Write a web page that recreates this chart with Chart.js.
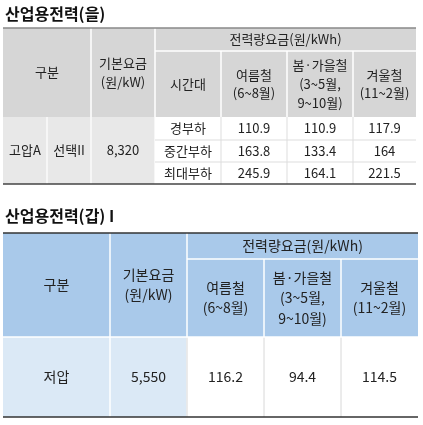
<!DOCTYPE html>
<html><head><meta charset="utf-8">
<script src="https://cdn.jsdelivr.net/npm/chart.js@4"></script>
<style>html,body{margin:0;padding:0;background:#fff}#w{width:423px;height:425px}</style>
</head><body><div id="w"><canvas id="c"></canvas></div>
<script>
// Data
const title1 = "산업용전력(을)";
const title2 = "산업용전력(갑) I";
const energyHeader = "전력량요금(원/kWh)";
const seasons = [["여름철","(6~8월)"],["봄·가을철","(3~5월,","9~10월)"],["겨울철","(11~2월)"]];
const timeBands = ["경부하","중간부하","최대부하"];
const eulSummer = [110.9, 163.8, 245.9];
const eulSpring = [110.9, 133.4, 164.1];
const eulWinter = [117.9, 164, 221.5];
const eulBase = "8,320";
const gapBase = "5,550";
const gapValues = [116.2, 94.4, 114.5];

// Layout (pixel units of the scales)
const T1 = {cols:[3,47,91,155,221,287,353,416], top:28, sub:51, head:117, rows:[117,140,162,184]};
const T2 = {cols:[3,110,187,264,341,418], top:233, sub:259, head:337, bot:417};
const FONT = '"Noto Sans CJK KR","Noto Sans",sans-serif';

const tablePlugin = {
  id:'tables',
  afterDraw(chart){
    const ctx = chart.ctx, xs = chart.scales.x, ys = chart.scales.y;
    const X = v => xs.getPixelForValue(v), Y = v => ys.getPixelForValue(v);
    function rect(x0,y0,x1,y1,fill){ctx.fillStyle=fill;ctx.fillRect(X(x0),Y(y0),X(x1)-X(x0),Y(y1)-Y(y0));}
    function line(x0,y0,x1,y1,col,w){ctx.strokeStyle=col;ctx.lineWidth=w;ctx.beginPath();ctx.moveTo(X(x0),Y(y0));ctx.lineTo(X(x1),Y(y1));ctx.stroke();}
    function text(lines,x0,y0,x1,y1,size,col){
      ctx.fillStyle=col||'#222';ctx.font=size+'px '+FONT;ctx.textAlign='center';ctx.textBaseline='middle';
      const lh=size*1.45, cx=(X(x0)+X(x1))/2, cy=(Y(y0)+Y(y1))/2;
      const arr=Array.isArray(lines)?lines:[lines];
      arr.forEach((s,i)=>ctx.fillText(String(s),cx,cy+(i-(arr.length-1)/2)*lh));
    }
    // Titles
    ctx.fillStyle='#111';ctx.font='bold 16px '+FONT;ctx.textAlign='left';ctx.textBaseline='middle';
    ctx.fillText(title1,X(5),Y(14));ctx.fillText(title2,X(5),Y(216));

    // ---- Table 1
    let c=T1.cols;
    rect(c[0],T1.top,c[7],T1.head,'#d6d6d6');
    rect(c[0],T1.head,c[3],T1.rows[3],'#e8e8e8');
    // header white borders
    [c[2],c[3]].forEach(x=>line(x,T1.top,x,T1.head,'#fff',1.5));
    line(c[3],T1.sub,c[7],T1.sub,'#fff',1.5);
    [c[4],c[5],c[6]].forEach(x=>line(x,T1.sub,x,T1.head,'#fff',1.5));
    // body borders
    [c[1],c[2],c[3],c[4],c[5],c[6]].forEach(x=>line(x,T1.head,x,T1.rows[3],'#fff',1.2));
    [c[4],c[5],c[6]].forEach(x=>line(x,T1.head,x,T1.rows[3],'#ddd',1));
    line(c[3],T1.rows[1],c[7],T1.rows[1],'#ddd',1);
    line(c[3],T1.rows[2],c[7],T1.rows[2],'#ddd',1);
    line(c[0],T1.top,c[7],T1.top,'#888',1.5);
    line(c[0],T1.rows[3],c[7],T1.rows[3],'#444',1.5);
    text('구분',c[0],T1.top,c[2],T1.head,13);
    text(['기본요금','(원/kW)'],c[2],T1.top,c[3],T1.head,13);
    text(energyHeader,c[3],T1.top,c[7],T1.sub,13);
    text('시간대',c[3],T1.sub,c[4],T1.head,13);
    seasons.forEach((s,i)=>text(s,c[4+i],T1.sub,c[5+i],T1.head,13));
    text('고압A',c[0],T1.head,c[1],T1.rows[3],13);
    text('선택II',c[1],T1.head,c[2],T1.rows[3],13);
    text(eulBase,c[2],T1.head,c[3],T1.rows[3],13);
    timeBands.forEach((b,r)=>{
      const y0=T1.rows[r],y1=T1.rows[r+1];
      text(b,c[3],y0,c[4],y1,13);
      text(eulSummer[r],c[4],y0,c[5],y1,13);
      text(eulSpring[r],c[5],y0,c[6],y1,13);
      text(eulWinter[r],c[6],y0,c[7],y1,13);
    });

    // ---- Table 2
    c=T2.cols;
    rect(c[0],T2.top,c[5],T2.head,'#a9c9ea');
    rect(c[0],T2.head,c[2],T2.bot,'#dbe9f6');
    [c[1],c[2]].forEach(x=>line(x,T2.top,x,T2.bot,'#fff',1.5));
    line(c[2],T2.sub,c[5],T2.sub,'#fff',1.5);
    [c[3],c[4]].forEach(x=>line(x,T2.sub,x,T2.head,'#fff',1.5));
    [c[3],c[4]].forEach(x=>line(x,T2.head,x,T2.bot,'#d8d8d8',1));
    line(c[2],T2.head,c[2],T2.bot,'#d8d8d8',1);
    line(c[0],T2.head,c[5],T2.head,'#fff',1.5);
    line(c[0],T2.top,c[5],T2.top,'#333',1.5);
    line(c[0],T2.bot,c[5],T2.bot,'#333',1.5);
    text('구분',c[0],T2.top,c[1],T2.head,14);
    text(['기본요금','(원/kW)'],c[1],T2.top,c[2],T2.head,14);
    text(energyHeader,c[2],T2.top,c[5],T2.sub,14);
    seasons.forEach((s,i)=>text(s,c[2+i],T2.sub,c[3+i],T2.head,14));
    text('저압',c[0],T2.head,c[1],T2.bot,14);
    text(gapBase,c[1],T2.head,c[2],T2.bot,14);
    gapValues.forEach((v,i)=>text(v,c[2+i],T2.head,c[3+i],T2.bot,14));
  }
};

new Chart(document.getElementById('c'),{
  type:'scatter',
  data:{datasets:[{data:[]}]},
  options:{
    responsive:true,maintainAspectRatio:false,animation:false,
    layout:{padding:0},
    plugins:{legend:{display:false},tooltip:{enabled:false}},
    scales:{
      x:{type:'linear',min:0,max:423,display:false},
      y:{type:'linear',min:0,max:425,reverse:true,display:false}
    }
  },
  plugins:[tablePlugin]
});
</script></body></html>
